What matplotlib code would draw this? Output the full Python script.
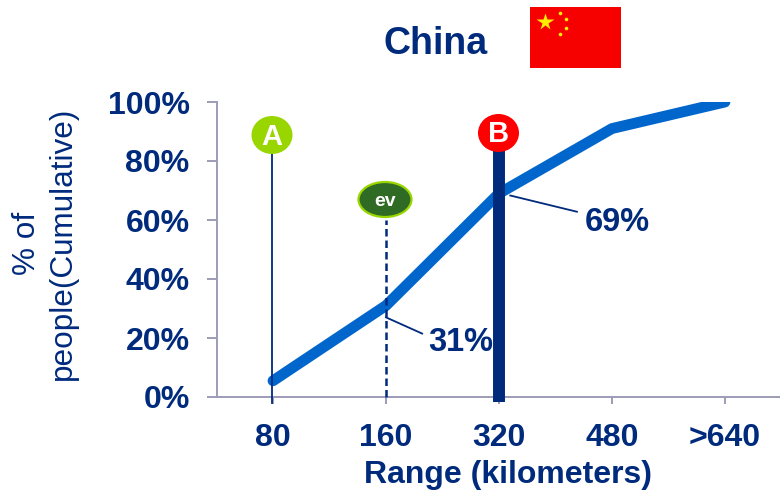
import matplotlib
matplotlib.use("Agg")
import matplotlib.pyplot as plt
from matplotlib.patches import Ellipse, Rectangle

plt.rcParams["font.family"] = ["Liberation Sans", "DejaVu Sans"]

# --- Data ---
ranges = ["80", "160", "320", "480", ">640"]
cumulative = [5.5, 31, 69, 91, 100]
y_ticks = [0, 20, 40, 60, 80, 100]

NAVY = "#002a7c"
BLUE = "#0066cc"
AXIS_GRAY = "#9c9cb8"

W, H = 780, 492
fig = plt.figure(figsize=(W / 100, H / 100), dpi=100)

# axes box in pixel terms: x from 216.5, 0% at y=397, 100% at y=102
ax = fig.add_axes([216.5 / W, (H - 397) / H, (W - 216.5) / W, 295 / H])
ax.set_xlim(-0.5, 4.487)
ax.set_ylim(0, 100)

x = list(range(len(ranges)))
ax.plot(x, cumulative, color=BLUE, lw=7.8, solid_capstyle="round",
        solid_joinstyle="round", zorder=3)

ax.set_xticks(x)
ax.set_xticklabels(ranges)
ax.set_yticks(y_ticks)
ax.set_yticklabels([f"{v}%" for v in y_ticks])
ax.tick_params(axis="x", length=5, width=1.4, color=AXIS_GRAY, pad=13.5,
               labelsize=23, labelcolor=NAVY)
ax.tick_params(axis="y", length=7, width=1.4, color=AXIS_GRAY, pad=12.3,
               labelsize=23, labelcolor=NAVY)
for lab in ax.get_xticklabels() + ax.get_yticklabels():
    lab.set_fontweight("bold")

for side in ["top", "right"]:
    ax.spines[side].set_visible(False)
for side in ["left", "bottom"]:
    ax.spines[side].set_color(AXIS_GRAY)
    ax.spines[side].set_linewidth(1.4)

# marker lines at A, ev and B
ax.plot([-0.01, -0.01], [-2, 84], color=NAVY, lw=1.3, clip_on=False, zorder=4)
ax.plot([1, 1], [0, 60], color=NAVY, lw=1.8, ls=(0, (3.0, 1.6)), clip_on=False, zorder=4)
ax.plot([2.0, 2.0], [-1.7, 84], color=NAVY, lw=8.6, solid_capstyle="butt",
        clip_on=False, zorder=4)

# leader lines and value callouts
ax.plot([1.0, 1.32], [27, 21.5], color=NAVY, lw=1.3, zorder=5)
ax.plot([2.1, 2.69], [68.3, 62.8], color=NAVY, lw=1.3, zorder=5)
ax.text(1.37, 18.5, "31%", color=NAVY, fontsize=23.5, fontweight="bold", va="center", zorder=6)
ax.text(2.76, 59, "69%", color=NAVY, fontsize=23.5, fontweight="bold", va="center", zorder=6)

fig.text(508 / W, 1 - 475 / H, "Range (kilometers)", color=NAVY, fontsize=23,
         fontweight="bold", ha="center", va="center")
fig.text(436 / W, 1 - 43.5 / H, "China", color=NAVY, fontsize=27,
         fontweight="bold", ha="center", va="center")
fig.text(45 / W, 1 - 243.5 / H, "% of\npeople(Cumulative)", color=NAVY, fontsize=22.7,
         rotation=90, ha="center", va="center", linespacing=1.3, multialignment="center")

# pixel-space overlay for badges and the flag
ov = fig.add_axes([0, 0, 1, 1], zorder=10)
ov.set_xlim(0, W)
ov.set_ylim(H, 0)
ov.axis("off")

ov.add_patch(Ellipse((272, 135), 41, 38, fc="#99d600", ec="none"))
ov.text(272, 137, "A", color="white", fontsize=21, fontweight="bold", ha="center", va="center")
ov.add_patch(Ellipse((498.5, 133), 41, 38, fc="#ff0000", ec="none"))
ov.text(498.5, 134.5, "B", color="white", fontsize=21, fontweight="bold", ha="center", va="center")
ov.add_patch(Ellipse((385, 199.5), 53, 35, fc="#2f6b24", ec="#99d600", lw=1.6))
ov.text(385, 201, "ev", color="white", fontsize=14, fontweight="bold", ha="center", va="center")

# flag of China
ov.add_patch(Rectangle((530, 7), 91, 61, fc="#f70000", ec="none"))
ov.plot([545], [22], marker="*", ms=13, color="#ffee00", mec="none")
ov.plot([560, 566, 566, 560], [13, 19, 28, 34], ls="none", marker="o", ms=2.6,
        color="#ffee00", mec="none")

fig.savefig("out.png", dpi=100)
